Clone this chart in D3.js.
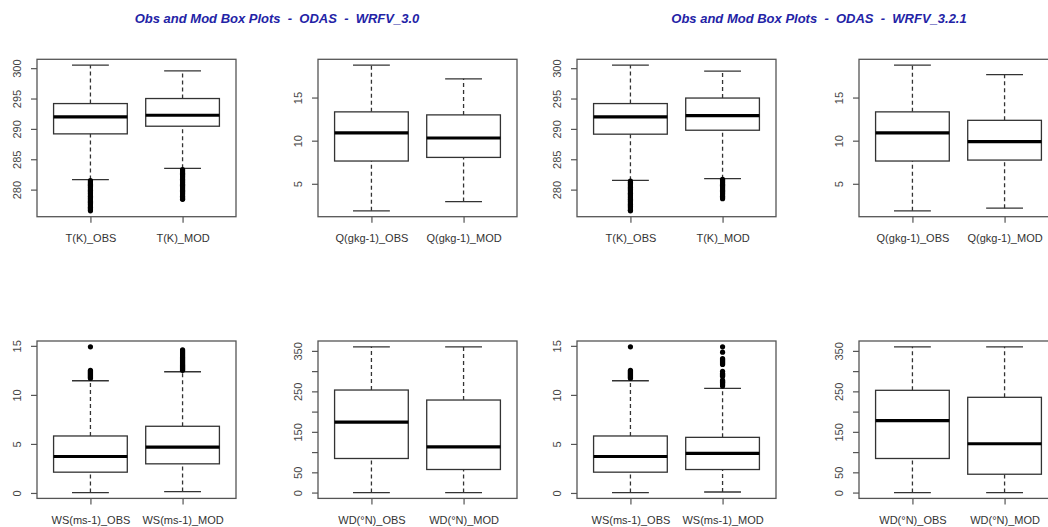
<!DOCTYPE html>
<html>
<head>
<meta charset="utf-8">
<script src="https://cdn.jsdelivr.net/npm/d3@7"></script>
<style>
  body { margin: 0; background: #fff; }
  text { font-family: "Liberation Sans", Arial, sans-serif; }
</style>
</head>
<body>
<div id="chart-area"></div>
<script>
/*
*    box plots - obs vs mod
*/

var titles = ["Obs and Mod Box Plots  -  ODAS  -  WRFV_3.0", "Obs and Mod Box Plots  -  ODAS  -  WRFV_3.2.1"];

// Categories
var tLabels = ["T(K)_OBS", "T(K)_MOD"];
var qLabels = ["Q(gkg-1)_OBS", "Q(gkg-1)_MOD"];
var wsLabels = ["WS(ms-1)_OBS", "WS(ms-1)_MOD"];
var wdLabels = ["WD(°N)_OBS", "WD(°N)_MOD"];

// Tick values / labels
var tTicks = [280, 285, 290, 295, 300];
var qTicks = [5, 10, 15];
var wsTicks = [0, 5, 10, 15];
var wdTicks = [0, 50, 100, 150, 200, 250, 300, 350];
var wdTickLabels = ["0", "50", "", "150", "", "250", "", "350"];

// Stats: [lower whisker, Q1, median, Q3, upper whisker]
var t30Obs = [281.65, 289.18, 291.98, 294.17, 300.5];
var t30Mod = [283.5, 290.44, 292.25, 295.0, 299.57];
var t30ObsOut = [281.5, 281.3, 281.1, 280.9, 280.7, 280.5, 280.3, 280.1, 279.9, 279.7, 279.5, 279.3, 279.1, 278.9, 278.7, 278.5, 278.3, 278.1, 277.9, 277.7, 277.5, 277.3, 277.1, 276.9, 276.7, 276.5];
var t30ModOut = [283.3, 283.1, 282.9, 282.7, 282.5, 282.3, 282.1, 281.9, 281.7, 281.5, 281.3, 281.1, 280.9, 280.7, 280.5, 280.3, 280.1, 279.9, 279.7, 279.5, 279.3, 279.1, 278.9, 278.7, 278.5, 278.4];

var q30Obs = [1.86, 7.64, 10.9, 13.34, 18.76];
var q30Mod = [2.94, 8.06, 10.31, 12.99, 17.17];

var ws30Obs = [0.04, 2.12, 3.72, 5.81, 11.44];
var ws30Mod = [0.14, 2.97, 4.68, 6.80, 12.36];
var ws30ObsOut = [14.9, 12.5, 12.4, 12.3, 12.2, 12.1, 12.0, 11.9, 11.8, 11.7];
var ws30ModOut = [12.5, 12.6, 12.7, 12.8, 12.9, 13.0, 13.1, 13.2, 13.3, 13.4, 13.5, 13.6, 13.7, 13.8, 13.9, 14.0, 14.1, 14.2, 14.3, 14.4, 14.5, 14.6];

var wd30Obs = [0, 84.2, 174.1, 253.3, 360];
var wd30Mod = [0, 57.0, 112.9, 228.6, 360];

var t321Obs = [281.53, 289.13, 291.98, 294.17, 300.5];
var t321Mod = [281.8, 289.78, 292.2, 295.08, 299.5];
var t321ObsOut = [281.4, 281.2, 281.0, 280.8, 280.6, 280.4, 280.2, 280.0, 279.8, 279.6, 279.4, 279.2, 279.0, 278.8, 278.6, 278.4, 278.2, 278.0, 277.8, 277.6, 277.4, 277.2, 277.0, 276.8, 276.6, 276.5];
var t321ModOut = [281.7, 281.5, 281.3, 281.1, 280.9, 280.7, 280.5, 280.3, 280.1, 279.9, 279.7, 279.5, 279.3, 279.1, 278.9, 278.7, 278.5];

var q321Obs = [1.86, 7.64, 10.9, 13.34, 18.76];
var q321Mod = [2.17, 7.75, 9.88, 12.36, 17.67];

var ws321Obs = [0.04, 2.12, 3.72, 5.81, 11.44];
var ws321Mod = [0.1, 2.39, 4.03, 5.67, 10.66];
var ws321ObsOut = [14.9, 12.5, 12.4, 12.3, 12.2, 12.1, 12.0, 11.9, 11.8, 11.7];
var ws321ModOut = [10.9, 11.0, 11.1, 11.2, 11.3, 11.4, 11.5, 11.9, 12.0, 12.1, 12.2, 12.4, 13.1, 13.2, 13.3, 13.4, 13.5, 13.6, 13.7, 14.35, 14.9];

var wd321Obs = [0, 84.2, 177.6, 252.6, 360];
var wd321Mod = [0, 45.3, 120.6, 235.3, 360];

var width = 1048;
var height = 527;
var pw = 199;
var ph = 157.4;

var svg = d3.select("#chart-area").append("svg").attr("width", width).attr("height", height);

// Titles
var titleX = [277, 819];
titles.forEach((t, i) => {
  svg.append("text").attr("x", titleX[i]).attr("y", 23).attr("text-anchor", "middle")
    .attr("font-size", "13px").attr("font-weight", "bold").attr("font-style", "italic")
    .style("white-space", "pre").style("fill", "#2323a6").text(t);
});

var panels = [
  {left: 37,  top: 59.3, labels: tLabels,  ticks: tTicks,  tickLabels: null, stats: [t30Obs, t30Mod], out: [t30ObsOut, t30ModOut]},
  {left: 318, top: 59.3, labels: qLabels,  ticks: qTicks,  tickLabels: null, stats: [q30Obs, q30Mod], out: [[], []]},
  {left: 577, top: 59.3, labels: tLabels,  ticks: tTicks,  tickLabels: null, stats: [t321Obs, t321Mod], out: [t321ObsOut, t321ModOut]},
  {left: 859, top: 59.3, labels: qLabels,  ticks: qTicks,  tickLabels: null, stats: [q321Obs, q321Mod], out: [[], []]},
  {left: 37,  top: 341,  labels: wsLabels, ticks: wsTicks, tickLabels: null, stats: [ws30Obs, ws30Mod], out: [ws30ObsOut, ws30ModOut]},
  {left: 318, top: 341,  labels: wdLabels, ticks: wdTicks, tickLabels: wdTickLabels, stats: [wd30Obs, wd30Mod], out: [[], []]},
  {left: 577, top: 341,  labels: wsLabels, ticks: wsTicks, tickLabels: null, stats: [ws321Obs, ws321Mod], out: [ws321ObsOut, ws321ModOut]},
  {left: 859, top: 341,  labels: wdLabels, ticks: wdTicks, tickLabels: wdTickLabels, stats: [wd321Obs, wd321Mod], out: [[], []]}
];

var ink = "#333";

panels.forEach((p) => {
  var g = svg.append("g").attr("transform", "translate(" + p.left + "," + p.top + ")");

  // Scales (R style: 4% padding)
  var all = d3.merge([p.stats[0], p.stats[1], p.out[0], p.out[1]]);
  var ext = d3.extent(all);
  var pad = (ext[1] - ext[0]) * 0.04;
  var y = d3.scaleLinear().domain([ext[0] - pad, ext[1] + pad]).range([ph, 0]);
  var x = d3.scaleLinear().domain([0.42, 2.58]).range([0, pw]);

  // Axis
  var yAxisCall = d3.axisLeft(y).tickValues(p.ticks).tickSize(6).tickPadding(9)
    .tickFormat((d, i) => p.tickLabels ? p.tickLabels[i] : d3.format("d")(d));
  var yAxisGroup = g.append("g").call(yAxisCall);
  yAxisGroup.select(".domain").remove();
  yAxisGroup.selectAll("line").attr("stroke", "#555").attr("stroke-width", 1.2);
  yAxisGroup.selectAll("text").attr("font-size", "11px").style("fill", "#444")
    .attr("text-anchor", "middle").attr("dy", null).attr("x", null)
    .attr("transform", "translate(-16,0) rotate(-90)");

  var xAxisCall = d3.axisBottom(x).tickValues([1, 2]).tickSize(6).tickPadding(12)
    .tickFormat((d, i) => p.labels[i]);
  var xAxisGroup = g.append("g").attr("transform", "translate(0," + ph + ")").call(xAxisCall);
  xAxisGroup.select(".domain").remove();
  xAxisGroup.selectAll("line").attr("stroke", "#555").attr("stroke-width", 1.2);
  xAxisGroup.selectAll("text").attr("font-size", "11px").style("fill", "#333");

  // Boxes
  p.stats.forEach((s, i) => {
    var cx = x(i + 1);
    var x0 = x(i + 0.6);
    var x1 = x(i + 1.4);
    var cap0 = x(i + 0.8);
    var cap1 = x(i + 1.2);

    g.append("line").attr("x1", cx).attr("x2", cx).attr("y1", y(s[0])).attr("y2", y(s[1]))
      .attr("stroke", ink).attr("stroke-width", 1.3).attr("stroke-dasharray", "4,3");
    g.append("line").attr("x1", cx).attr("x2", cx).attr("y1", y(s[3])).attr("y2", y(s[4]))
      .attr("stroke", ink).attr("stroke-width", 1.3).attr("stroke-dasharray", "4,3");
    g.append("line").attr("x1", cap0).attr("x2", cap1).attr("y1", y(s[0])).attr("y2", y(s[0]))
      .attr("stroke", ink).attr("stroke-width", 1.3);
    g.append("line").attr("x1", cap0).attr("x2", cap1).attr("y1", y(s[4])).attr("y2", y(s[4]))
      .attr("stroke", ink).attr("stroke-width", 1.3);
    g.append("rect").attr("x", x0).attr("y", y(s[3])).attr("width", x1 - x0).attr("height", y(s[1]) - y(s[3]))
      .attr("fill", "white").attr("stroke", ink).attr("stroke-width", 1.3);
    g.append("line").attr("x1", x0).attr("x2", x1).attr("y1", y(s[2])).attr("y2", y(s[2]))
      .attr("stroke", "#000").attr("stroke-width", 3.2);

    g.selectAll(".out" + i).data(p.out[i]).enter().append("circle")
      .attr("cx", cx).attr("cy", (d) => y(d)).attr("r", 2.6).attr("fill", "#000");
  });

  // Frame
  g.append("rect").attr("width", pw).attr("height", ph).attr("fill", "none")
    .attr("stroke", "#555").attr("stroke-width", 1.3);
});
</script>
</body>
</html>
